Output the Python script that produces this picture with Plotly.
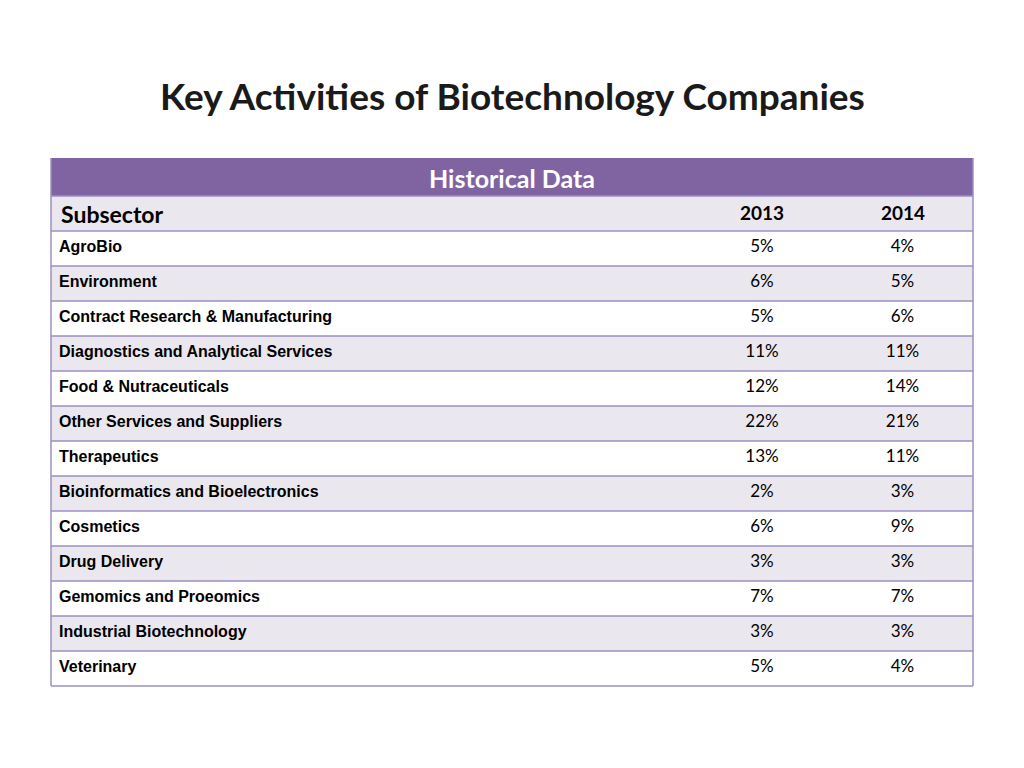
import plotly.graph_objects as go

title = "Key Activities of Biotechnology Companies"
group_header = "Historical Data"
col_headers = ["Subsector", "2013", "2014"]
subsectors = ["AgroBio", "Environment", "Contract Research & Manufacturing",
              "Diagnostics and Analytical Services", "Food & Nutraceuticals",
              "Other Services and Suppliers", "Therapeutics",
              "Bioinformatics and Bioelectronics", "Cosmetics", "Drug Delivery",
              "Gemomics and Proeomics", "Industrial Biotechnology", "Veterinary"]
v2013 = [5, 6, 5, 11, 12, 22, 13, 2, 6, 3, 7, 3, 5]
v2014 = [4, 5, 6, 11, 14, 21, 11, 3, 9, 3, 7, 3, 4]

W, H = 1024, 768
OFF = 8  # page body margin
x0, x1 = 51 - OFF, 973 - OFF
top = 158 - OFF
grp_h = 38
row_h = 35
colw = [641, 140, 141]
PURPLE = "#8064A2"
BAND = "#EAE7EF"
LINE = "#9D90C2"
FONT = "Lato"
LABEL_FONT = "Liberation Sans"
CLEAR = "rgba(0,0,0,0)"
LABEL_SHIFT = 1  # markup-rendered labels sit lower; lift their table

n = len(subsectors)
t2 = top + grp_h          # top of column-header row
t3 = t2 + row_h           # top of body
xs = x0 + colw[0]

fig = go.Figure()
# label column (rendered via markup for all rows so offsets are uniform)
fig.add_trace(go.Table(
    domain=dict(x=[x0 / W, xs / W], y=[0, 1 - (t2 - LABEL_SHIFT) / H]),
    columnwidth=[colw[0]],
    header=dict(values=[""], height=row_h, fill=dict(color=CLEAR),
                line=dict(color=CLEAR, width=0), font=dict(family=FONT, size=16)),
    cells=dict(values=[["<b>" + s + "</b>" for s in subsectors]],
               fill=dict(color=CLEAR), line=dict(color=CLEAR, width=0),
               align="left", height=row_h,
               font=dict(family=LABEL_FONT, size=16, color="black")),
))
# value columns
fig.add_trace(go.Table(
    domain=dict(x=[xs / W, x1 / W], y=[0, 1 - t2 / H]),
    columnwidth=colw[1:],
    header=dict(values=["", ""], height=row_h, fill=dict(color=CLEAR),
                line=dict(color=CLEAR, width=0), font=dict(family=FONT, size=16)),
    cells=dict(values=[[f"{v}%" for v in v2013], [f"{v}%" for v in v2014]],
               fill=dict(color=CLEAR), line=dict(color=CLEAR, width=0),
               align="center", height=row_h,
               font=dict(family=FONT, size=17, color="black")),
))

shapes = [
    dict(type="rect", xref="paper", yref="paper", x0=x0 / W, x1=x1 / W,
         y0=1 - t2 / H, y1=1 - top / H, fillcolor=PURPLE, line=dict(width=0), layer="below"),
    dict(type="rect", xref="paper", yref="paper", x0=x0 / W, x1=x1 / W,
         y0=1 - t3 / H, y1=1 - t2 / H, fillcolor=BAND, line=dict(width=0), layer="below"),
]
for i in range(n):
    if i % 2 == 1:
        ya = t3 + i * row_h
        shapes.append(dict(type="rect", xref="paper", yref="paper", x0=x0 / W, x1=x1 / W,
                           y0=1 - (ya + row_h) / H, y1=1 - ya / H, fillcolor=BAND,
                           line=dict(width=0), layer="below"))
for k in range(n + 2):
    y = t2 + k * row_h
    shapes.append(dict(type="line", xref="paper", yref="paper", x0=x0 / W, x1=x1 / W,
                       y0=1 - y / H, y1=1 - y / H, line=dict(color=LINE, width=1.5),
                       layer="above"))
for xx in (x0, x1):
    shapes.append(dict(type="line", xref="paper", yref="paper", x0=xx / W, x1=xx / W,
                       y0=1 - top / H, y1=1 - (t2 + (n + 1) * row_h) / H,
                       line=dict(color=LINE, width=1.5), layer="above"))

# column header labels
col_x = [x0 + 8, xs + colw[1] / 2, xs + colw[1] + colw[2] / 2]
col_anchor = ["left", "center", "center"]
col_size = [23, 19, 19]
col_y = [t2 + 18, t2 + 16, t2 + 16]
annotations = [
    dict(text=title, x=0.5 - OFF / W, y=1 - (95 - OFF) / H,
         xref="paper", yref="paper", showarrow=False, xanchor="center",
         yanchor="middle", font=dict(family=FONT, size=37, color="#1a1a1a", weight="bold")),
    dict(text=group_header, x=(x0 + x1) / 2 / W,
         y=1 - (top + grp_h / 2 + 1) / H, xref="paper", yref="paper",
         showarrow=False, xanchor="center", yanchor="middle",
         font=dict(family=FONT, size=25, color="white", weight="bold")),
]
for lab, cx, anc, sz, cy in zip(col_headers, col_x, col_anchor, col_size, col_y):
    annotations.append(dict(text=lab, x=cx / W, y=1 - cy / H, xref="paper", yref="paper",
                            showarrow=False, xanchor=anc, yanchor="middle",
                            font=dict(family=FONT, size=sz, color="black", weight="bold")))

fig.update_layout(
    width=W, height=H, margin=dict(l=0, r=0, t=0, b=0),
    paper_bgcolor="white", plot_bgcolor="white", shapes=shapes,
    annotations=annotations,
)
fig.write_html("out.html")
